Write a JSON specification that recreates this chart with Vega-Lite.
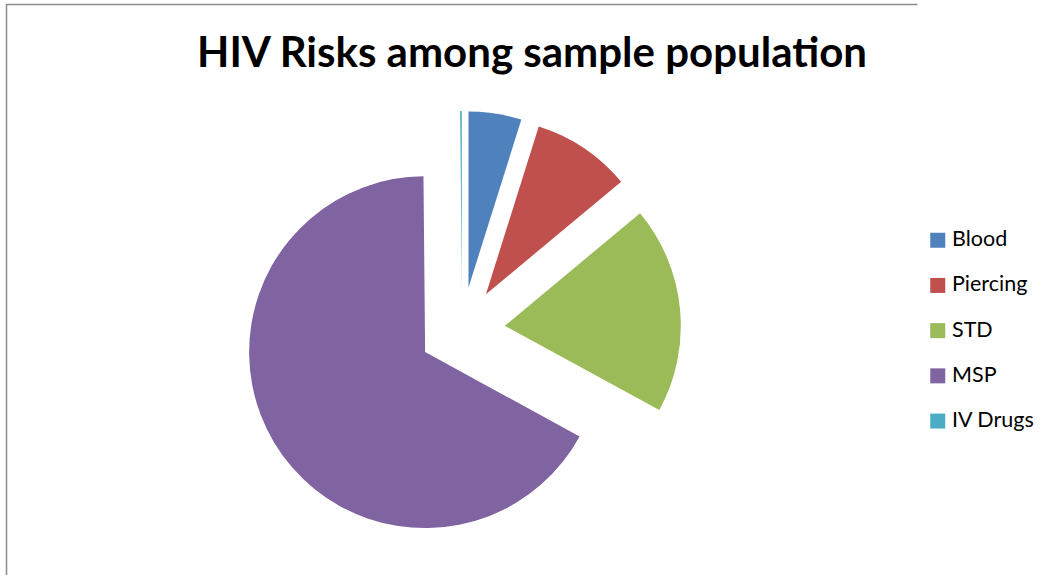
{
  "$schema": "https://vega.github.io/schema/vega-lite/v6.json",
  "autosize": {"type": "none"},
  "width": 911,
  "height": 651,
  "padding": {"left": 6.5, "top": 4.5, "right": 131.5, "bottom": -80.5},
  "background": "white",
  "view": {"stroke": "#8c8c8c", "strokeWidth": 1.5, "strokeDash": [911, 1562, 651]},
  "title": {
    "text": "HIV Risks among sample population",
    "font": "Lato",
    "fontSize": 42,
    "fontWeight": "bold",
    "color": "#000000",
    "anchor": "middle",
    "dx": 70,
    "offset": -71
  },
  "data": {
    "values": [
      {"risk": "Blood", "share": 4.85, "idx": 1},
      {"risk": "Piercing", "share": 9.1, "idx": 2},
      {"risk": "STD", "share": 19.0, "idx": 3},
      {"risk": "MSP", "share": 66.9, "idx": 4},
      {"risk": "IV Drugs", "share": 0.15, "idx": 5}
    ]
  },
  "mark": {
    "type": "arc",
    "outerRadius": 176,
    "xOffset": {"expr": "43 * sin(scale('theta', (datum.share_start + datum.share_end) / 2))"},
    "yOffset": {"expr": "-43 * cos(scale('theta', (datum.share_start + datum.share_end) / 2))"}
  },
  "encoding": {
    "theta": {"field": "share", "type": "quantitative", "stack": true},
    "order": {"field": "idx", "type": "quantitative"},
    "color": {
      "field": "risk",
      "type": "nominal",
      "sort": ["Blood", "Piercing", "STD", "MSP", "IV Drugs"],
      "scale": {
        "domain": ["Blood", "Piercing", "STD", "MSP", "IV Drugs"],
        "range": ["#4F81BD", "#C0504D", "#9BBB59", "#8064A2", "#4BACC6"]
      },
      "legend": {
        "title": null,
        "orient": "none",
        "legendX": 920.5,
        "legendY": 225,
        "symbolType": "square",
        "symbolSize": 225,
        "symbolStrokeWidth": 0,
        "labelFont": "Lato",
        "labelFontSize": 21.5,
        "labelColor": "#000000",
        "labelOffset": 3.5,
        "rowPadding": 22.2,
        "padding": 0
      }
    }
  }
}
